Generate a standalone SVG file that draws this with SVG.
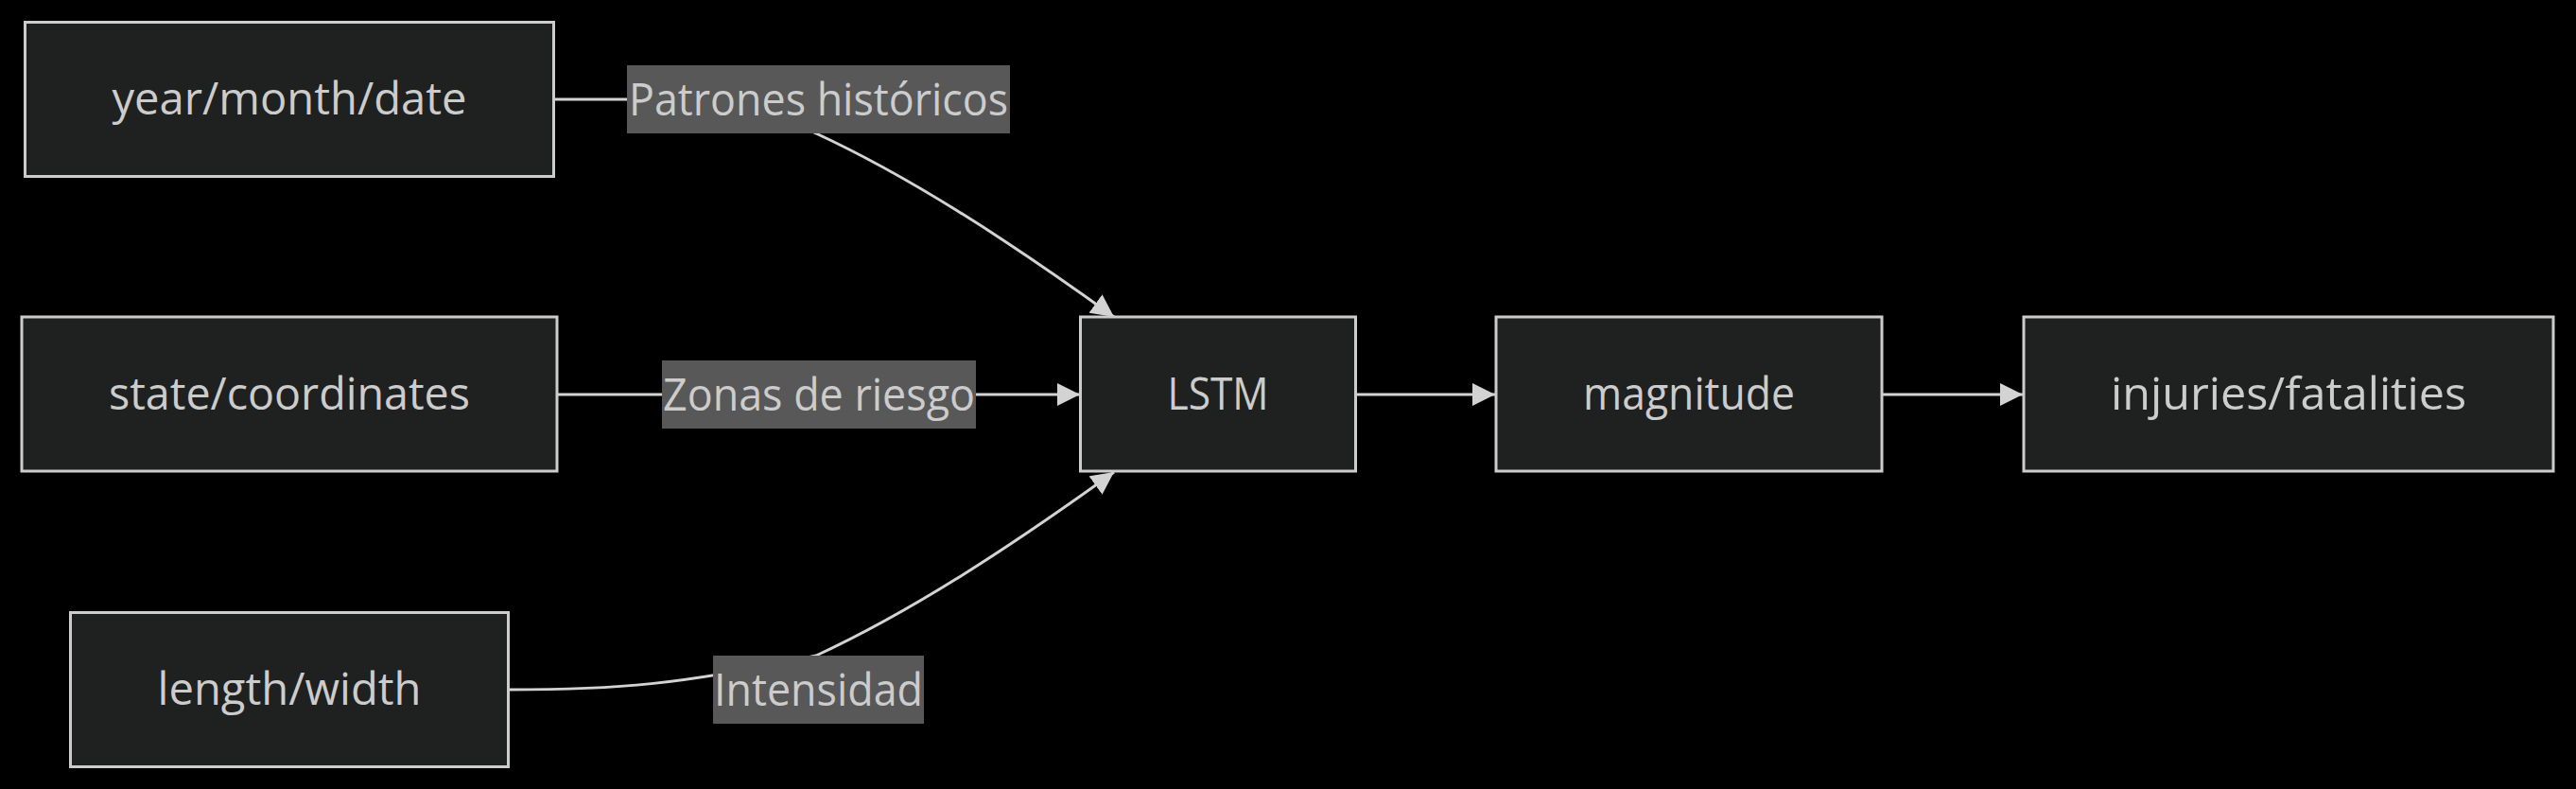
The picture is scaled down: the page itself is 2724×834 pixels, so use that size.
<svg xmlns="http://www.w3.org/2000/svg" width="2724" height="834" viewBox="0 0 2724 834">
<style>
.node rect{fill:#1f2020;stroke:#cccccc;stroke-width:3}
.node text{fill:#cccccc;font-family:"Open Sans","Liberation Sans",sans-serif;font-size:48px;text-anchor:middle}
.edge{fill:none;stroke:#d3d3d3;stroke-width:3}
.elabel rect{fill:#585858}
.elabel text{fill:#cccccc;font-family:"Open Sans","Liberation Sans",sans-serif;font-size:48px;text-anchor:middle}
</style>
<defs>
<marker id="arrow" viewBox="0 0 10 10" refX="10" refY="5" markerWidth="8" markerHeight="8" markerUnits="strokeWidth" orient="auto">
<path d="M0,0 L10,5 L0,10 z" fill="#d3d3d3"/>
</marker>
</defs>
<rect x="0" y="0" width="2724" height="834" fill="#000000"/>
<g id="connectors">
<path class="edge" d="M586,105 L720,105 C790,105 820,120 863,141 C960,186 1060,250 1178,335" marker-end="url(#arrow)"/>
<path class="edge" d="M589,417 L1142,417" marker-end="url(#arrow)"/>
<path class="edge" d="M538,729 C650,729 720,724 863,693 C960,648 1060,584 1178,499" marker-end="url(#arrow)"/>
<path class="edge" d="M1434,417 L1581,417" marker-end="url(#arrow)"/>
<path class="edge" d="M1991,417 L2139,417" marker-end="url(#arrow)"/>
<g class="elabel" id="label-historicos">
<rect x="663" y="69" width="405" height="72"/>
<text x="865.5" y="121.5" textLength="401" lengthAdjust="spacingAndGlyphs">Patrones históricos</text>
</g>
<g class="elabel" id="label-riesgo">
<rect x="700" y="381" width="332" height="72"/>
<text x="866" y="433.5" textLength="330" lengthAdjust="spacingAndGlyphs">Zonas de riesgo</text>
</g>
<g class="elabel" id="label-intensidad">
<rect x="754" y="693" width="223" height="72"/>
<text x="865.5" y="745.5" textLength="221" lengthAdjust="spacingAndGlyphs">Intensidad</text>
</g>
</g>
<g id="node-date" class="node">
<rect x="26.5" y="23.5" width="559" height="163"/>
<text x="306" y="121" textLength="375" lengthAdjust="spacingAndGlyphs">year/month/date</text>
</g>
<g id="node-state" class="node">
<rect x="23" y="335" width="566" height="163"/>
<text x="306" y="433" textLength="382" lengthAdjust="spacingAndGlyphs">state/coordinates</text>
</g>
<g id="node-length" class="node">
<rect x="74.5" y="647.5" width="463" height="163"/>
<text x="306" y="745" textLength="279" lengthAdjust="spacingAndGlyphs">length/width</text>
</g>
<g id="node-lstm" class="node">
<rect x="1142.5" y="335" width="291" height="163"/>
<text x="1288" y="433" textLength="107" lengthAdjust="spacingAndGlyphs">LSTM</text>
</g>
<g id="node-magnitude" class="node">
<rect x="1582" y="335" width="408" height="163"/>
<text x="1786" y="433" textLength="224" lengthAdjust="spacingAndGlyphs">magnitude</text>
</g>
<g id="node-injuries" class="node">
<rect x="2140" y="335" width="560" height="163"/>
<text x="2420" y="433" textLength="376" lengthAdjust="spacingAndGlyphs">injuries/fatalities</text>
</g>
</svg>
